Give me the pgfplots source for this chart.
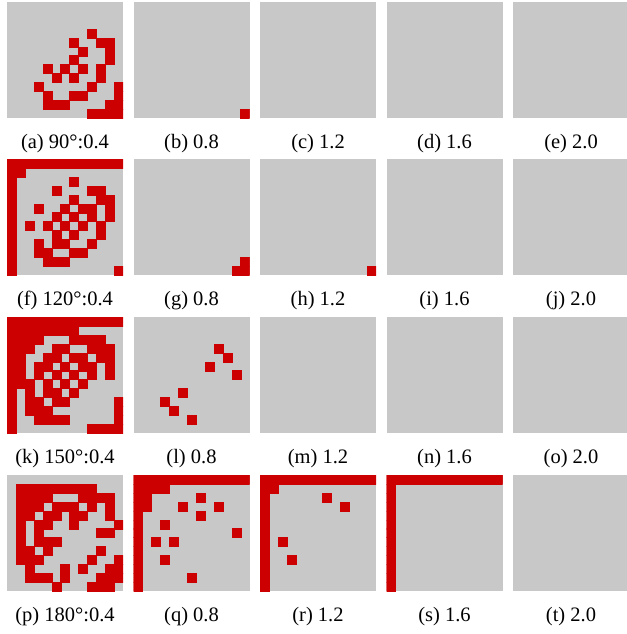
\documentclass[border=0pt]{standalone}
\usepackage{fontspec}
\setmainfont{Liberation Serif}
\usepackage{pgfplots}
\pgfplotsset{compat=1.18}
\definecolor{cred}{RGB}{204,0,0}
\definecolor{cgrey}{RGB}{200,200,200}
\pgfplotsset{
  panel/.style={width=116pt,height=116pt,scale only axis,anchor=north west,
    xmin=-0.5,xmax=12.5,ymin=-0.5,ymax=12.5,y dir=reverse,ticks=none,
    axis line style={draw=none},axis background/.style={fill=cgrey},
    clip marker paths=true,
    xlabel style={at={(axis description cs:0.5,0)},anchor=base,yshift=-30pt,
      font=\fontsize{20.5}{24}\selectfont}},
  cells/.style={only marks,color=cred,mark=square*,mark size=4.5pt,
    mark options={solid,draw=cred,fill=cred,line width=0.1pt}}
}
\begin{document}
\begin{tikzpicture}
\useasboundingbox (0,0) rectangle (626pt,-634pt);
% ---------- row 1 ----------
\begin{axis}[panel,at={(7pt,-2pt)},xlabel={(a) 90°:0.4}]
\addplot[cells] coordinates {
(9,3)
(7,4)(10,4)(11,4)
(8,5)(11,5)
(7,6)(11,6)
(4,7)(6,7)(8,7)(10,7)
(5,8)(7,8)(10,8)
(3,9)(9,9)(12,9)
(4,10)(7,10)(8,10)(12,10)
(4,11)(5,11)(6,11)(11,11)(12,11)
(9,12)(10,12)(11,12)(12,12)};
\end{axis}
\begin{axis}[panel,at={(133.5pt,-2pt)},xlabel={(b) 0.8}]
\addplot[cells] coordinates {(12,12)};
\end{axis}
\begin{axis}[panel,at={(260pt,-2pt)},xlabel={(c) 1.2}]
\end{axis}
\begin{axis}[panel,at={(386.5pt,-2pt)},xlabel={(d) 1.6}]
\end{axis}
\begin{axis}[panel,at={(513pt,-2pt)},xlabel={(e) 2.0}]
\end{axis}
% ---------- row 2 ----------
\begin{axis}[panel,at={(7pt,-159pt)},xlabel={(f) 120°:0.4}]
\addplot[cells] coordinates {
(0,0)(1,0)(2,0)(3,0)(4,0)(5,0)(6,0)(7,0)(8,0)(9,0)(10,0)(11,0)(12,0)
(0,1)(1,1)
(0,2)(7,2)
(0,3)(5,3)(9,3)(10,3)
(0,4)(7,4)(10,4)(11,4)
(0,5)(3,5)(6,5)(8,5)(9,5)(11,5)
(0,6)(5,6)(7,6)(9,6)(11,6)
(0,7)(2,7)(4,7)(6,7)(8,7)(10,7)
(0,8)(5,8)(7,8)(10,8)
(0,9)(3,9)(5,9)(6,9)(9,9)
(0,10)(3,10)(4,10)(7,10)(8,10)
(0,11)(4,11)(5,11)(6,11)
(0,12)(12,12)};
\end{axis}
\begin{axis}[panel,at={(133.5pt,-159pt)},xlabel={(g) 0.8}]
\addplot[cells] coordinates {(12,11)(11,12)(12,12)};
\end{axis}
\begin{axis}[panel,at={(260pt,-159pt)},xlabel={(h) 1.2}]
\addplot[cells] coordinates {(12,12)};
\end{axis}
\begin{axis}[panel,at={(386.5pt,-159pt)},xlabel={(i) 1.6}]
\end{axis}
\begin{axis}[panel,at={(513pt,-159pt)},xlabel={(j) 2.0}]
\end{axis}
% ---------- row 3 ----------
\begin{axis}[panel,at={(7pt,-317pt)},xlabel={(k) 150°:0.4}]
\addplot[cells] coordinates {
(0,0)(1,0)(2,0)(3,0)(4,0)(5,0)(6,0)(7,0)(8,0)(9,0)(10,0)(11,0)(12,0)
(0,1)(1,1)(2,1)(3,1)(4,1)(5,1)(6,1)(7,1)
(0,2)(1,2)(2,2)(3,2)(7,2)(8,2)(9,2)(10,2)
(0,3)(1,3)(2,3)(5,3)(6,3)(9,3)(10,3)(11,3)
(0,4)(1,4)(4,4)(5,4)(7,4)(8,4)(10,4)(11,4)
(0,5)(1,5)(3,5)(4,5)(6,5)(8,5)(9,5)(11,5)
(0,6)(1,6)(3,6)(5,6)(7,6)(9,6)(11,6)
(0,7)(1,7)(2,7)(4,7)(6,7)(8,7)
(0,8)(2,8)(4,8)(5,8)(7,8)
(0,9)(2,9)(3,9)(5,9)(6,9)(12,9)
(0,10)(2,10)(3,10)(4,10)(12,10)
(0,11)(3,11)(4,11)(5,11)(6,11)(12,11)
(0,12)(9,12)(10,12)(11,12)(12,12)};
\end{axis}
\begin{axis}[panel,at={(133.5pt,-317pt)},xlabel={(l) 0.8}]
\addplot[cells] coordinates {(9,3)(10,4)(8,5)(11,6)(5,8)(3,9)(4,10)(6,11)};
\end{axis}
\begin{axis}[panel,at={(260pt,-317pt)},xlabel={(m) 1.2}]
\end{axis}
\begin{axis}[panel,at={(386.5pt,-317pt)},xlabel={(n) 1.6}]
\end{axis}
\begin{axis}[panel,at={(513pt,-317pt)},xlabel={(o) 2.0}]
\end{axis}
% ---------- row 4 ----------
\begin{axis}[panel,at={(7pt,-475pt)},xlabel={(p) 180°:0.4}]
\addplot[cells] coordinates {
(1,1)(2,1)(3,1)(4,1)(5,1)(6,1)(7,1)(8,1)(9,1)
(1,2)(2,2)(3,2)(4,2)(8,2)(9,2)(10,2)(11,2)
(1,3)(2,3)(3,3)(5,3)(6,3)(7,3)(9,3)(11,3)
(1,4)(2,4)(4,4)(5,4)(7,4)(8,4)(11,4)
(1,5)(3,5)(4,5)(7,5)(12,5)
(1,6)(3,6)(10,6)(11,6)
(1,7)(3,7)(4,7)(5,7)
(1,8)(2,8)(4,8)(10,8)
(1,9)(2,9)(3,9)(9,9)(12,9)
(2,10)(6,10)(8,10)(11,10)(12,10)
(2,11)(3,11)(4,11)(6,11)(10,11)(11,11)(12,11)
(5,12)(9,12)(10,12)(11,12)};
\end{axis}
\begin{axis}[panel,at={(133.5pt,-475pt)},xlabel={(q) 0.8}]
\addplot[cells] coordinates {
(0,0)(1,0)(2,0)(3,0)(4,0)(5,0)(6,0)(7,0)(8,0)(9,0)(10,0)(11,0)(12,0)
(0,1)(1,1)(2,1)(3,1)
(0,2)(1,2)(7,2)
(0,3)(1,3)(5,3)(9,3)
(0,4)(7,4)
(0,5)(3,5)
(0,6)(11,6)
(0,7)(2,7)(4,7)
(0,8)
(0,9)(3,9)
(0,10)
(0,11)(6,11)
(0,12)};
\end{axis}
\begin{axis}[panel,at={(260pt,-475pt)},xlabel={(r) 1.2}]
\addplot[cells] coordinates {
(0,0)(1,0)(2,0)(3,0)(4,0)(5,0)(6,0)(7,0)(8,0)(9,0)(10,0)(11,0)(12,0)
(0,1)(1,1)
(0,2)(7,2)
(0,3)(9,3)
(0,4)(0,5)(0,6)
(0,7)(2,7)
(0,8)
(0,9)(3,9)
(0,10)(0,11)(0,12)};
\end{axis}
\begin{axis}[panel,at={(386.5pt,-475pt)},xlabel={(s) 1.6}]
\addplot[cells] coordinates {
(0,0)(1,0)(2,0)(3,0)(4,0)(5,0)(6,0)(7,0)(8,0)(9,0)(10,0)(11,0)(12,0)
(0,1)(0,2)(0,3)(0,4)(0,5)(0,6)(0,7)(0,8)(0,9)(0,10)(0,11)(0,12)};
\end{axis}
\begin{axis}[panel,at={(513pt,-475pt)},xlabel={(t) 2.0}]
\end{axis}
\end{tikzpicture}
\end{document}
